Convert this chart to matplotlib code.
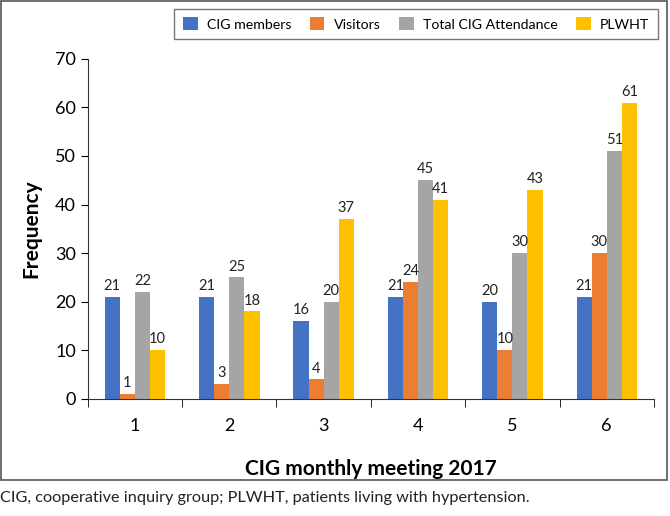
import matplotlib.pyplot as plt
import numpy as np
from matplotlib.patches import Rectangle

plt.rcParams['font.family'] = ['Lato', 'DejaVu Sans']

meetings = ['1', '2', '3', '4', '5', '6']
members = [21, 21, 16, 21, 20, 21]
visitors = [1, 3, 4, 24, 10, 30]
total = [22, 25, 20, 45, 30, 51]
plwht = [10, 18, 37, 41, 43, 61]

series = [('CIG members', members, '#4472C4'),
          ('Visitors', visitors, '#ED7D31'),
          ('Total CIG Attendance', total, '#A5A5A5'),
          ('PLWHT', plwht, '#FFC000')]

fig = plt.figure(figsize=(6.7, 5.16), dpi=100)
ax = fig.add_axes([0.131, 0.227, 0.845, 0.659])

x = np.arange(len(meetings))
w = 0.16
for i, (name, vals, col) in enumerate(series):
    pos = x + (i - 1.5) * w
    bars = ax.bar(pos, vals, w, color=col, label=name)
    for b, v in zip(bars, vals):
        ax.text(b.get_x() + b.get_width() / 2, v + 0.8, str(v),
                ha='center', va='bottom', fontsize=10.5, color='#222222')

ax.set_xlim(-0.5, len(meetings) - 0.5)
ax.set_ylim(0, 70)
ax.set_yticks(range(0, 71, 10))
ax.set_xticks(x)
ax.set_xticklabels(meetings)
ax.set_xticks(np.arange(-0.5, len(meetings), 1), minor=True)
ax.tick_params(axis='x', which='major', length=0, pad=14, labelsize=13)
ax.tick_params(axis='x', which='minor', length=6, direction='out')
ax.tick_params(axis='y', length=5, labelsize=13)
for s in ['top', 'right']:
    ax.spines[s].set_visible(False)
ax.spines['left'].set_color('#333333')
ax.spines['bottom'].set_color('#333333')

ax.set_ylabel('Frequency', fontsize=15, fontweight='bold', labelpad=10)
ax.set_xlabel('CIG monthly meeting 2017', fontsize=15, fontweight='bold', labelpad=18)

leg = ax.legend(loc='upper right', bbox_to_anchor=(1.007, 1.147), borderaxespad=0,
                ncol=4, frameon=True, fancybox=False, edgecolor='#555555',
                fontsize=10.2, handlelength=1.05, handleheight=1.05,
                columnspacing=1.3, handletextpad=0.65, borderpad=0.6)
leg.get_frame().set_linewidth(1.0)

fig.patches.append(Rectangle((0.002, 0.07), 0.993, 0.928, transform=fig.transFigure,
                             fill=False, edgecolor='#555555', linewidth=1.2))
fig.text(0.0, 0.035, 'CIG, cooperative inquiry group; PLWHT, patients living with hypertension.',
         fontsize=11.7, ha='left', va='center', color='#222222')

fig.savefig('out.png', dpi=100)
